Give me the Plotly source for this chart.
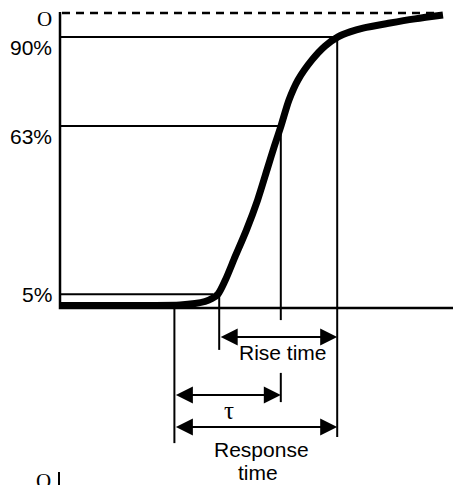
import plotly.graph_objects as go

# ---------------- data (time in arbitrary units, output level in %) ----------------
level_labels = ["O", "90%", "63%", "5%"]
level_values = [100.0, 91.9, 61.7, 4.7]          # levels as drawn in the schematic

# key instants on the time axis
t_start = 28.6    # start of response time
t_5 = 39.8        # output reaches 5 %
t_63 = 55.2       # output reaches 63 %
t_90 = 69.3       # output reaches 90 %
t_axis_end = 98.25

# step-response curve
curve_t = [0, 22.5, 30, 33.75, 36.25, 38, 39.5, 41.25, 43.75, 46.6, 49.4, 51.9,
           53.6, 55.25, 57.25, 59.5, 63, 66.25, 69.5, 72.5, 75.75, 82.5, 88.75, 95.75]
curve_level = [0.85, 0.85, 1.0, 1.5, 2.2, 3.2, 4.7, 9.2, 17.3, 26.4, 36.6, 47.5,
               54.9, 61.7, 70.5, 77.3, 84.1, 88.8, 91.9, 93.6, 94.9, 96.6, 98.0, 99.3]

dim_labels = ["Rise time", "τ", "Response", "time"]

# ---------------- figure ----------------
W, H = 469, 485
PX_PER_T = 4.0
PX_PER_PCT = 2.95
# the page body adds an 8 px offset, so the ranges are shifted to compensate
X_RANGE = [-13.0, -13.0 + W / PX_PER_T]
Y_TOP = 300.0 / PX_PER_PCT
Y_RANGE = [Y_TOP - H / PX_PER_PCT, Y_TOP]
SANS = "Liberation Sans, Arial, sans-serif"
SERIF = "Liberation Serif, Times New Roman, serif"
BLACK = "#000000"

fig = go.Figure()

def seg(xs, ys, width=2.0, dash="solid"):
    fig.add_trace(go.Scatter(x=xs, y=ys, mode="lines", hoverinfo="skip",
                             line=dict(color=BLACK, width=width, dash=dash),
                             showlegend=False))

# axes
seg([0, 0, t_axis_end], [100.3, 0, 0], width=2.5)
# final value (dashed)
seg([0.5, 94.3], [level_values[0], level_values[0]], width=2.5, dash="8px,6px")
# level lines
seg([0, t_90], [level_values[1]] * 2)
seg([0, t_63], [level_values[2]] * 2)
seg([0, 38.3], [level_values[3]] * 2)

# vertical marker lines
seg([t_start, t_start], [0, -45.8])
seg([t_5, t_5], [level_values[3], -14.2])
seg([t_63, t_63], [level_values[2], -4.1])
seg([t_63, t_63], [-22.0, -31.9])
seg([t_90, t_90], [level_values[1], -43.7])
# second chart stub at bottom
seg([-0.25, -0.25], [-55.6, -62])

# the curve
fig.add_trace(go.Scatter(x=curve_t, y=curve_level, mode="lines", hoverinfo="skip",
                         line=dict(color=BLACK, width=7, shape="spline", smoothing=0.8),
                         showlegend=False))

annotations = []

def darrow(x0, x1, y):
    annotations.append(dict(x=x1, y=y, ax=x0, ay=y, xref="x", yref="y",
                            axref="x", ayref="y", text="", showarrow=True,
                            arrowhead=2, startarrowhead=2, arrowside="end+start",
                            arrowsize=1.7, startarrowsize=1.7, arrowwidth=2,
                            arrowcolor=BLACK, standoff=0, startstandoff=0))

darrow(t_5, t_90, -9.83)
darrow(t_start, t_63, -29.5)
darrow(t_start, t_90, -40.3)

def text(x, y, s, font=SANS, size=21, xanchor="center", yanchor="middle"):
    annotations.append(dict(x=x, y=y, xref="x", yref="y", text=s, showarrow=False,
                            font=dict(family=font, size=size, color=BLACK),
                            xanchor=xanchor, yanchor=yanchor))

# level labels (offsets relative to their lines, as in the drawing)
label_shift = [-2.0, -3.7, -3.4, 0.0]
for lab, val, sh in zip(level_labels, level_values, label_shift):
    text(-1.6, val + sh, lab, font=SERIF if lab == "O" else SANS, xanchor="right")

text(101.2, -1.4, "t", xanchor="left")
text(55.75, -15.25, dim_labels[0])
text(42.2, -34.6, dim_labels[1], font=SERIF, size=25)
text(50.25, -48.1, dim_labels[2])
text(49.5, -55.6, dim_labels[3])
text(-4.25, -58.6, "O", font=SERIF)

fig.update_layout(
    width=W, height=H, autosize=False,
    margin=dict(l=0, r=0, t=0, b=0, pad=0),
    paper_bgcolor="white", plot_bgcolor="white",
    xaxis=dict(range=X_RANGE, visible=False, fixedrange=True),
    yaxis=dict(range=Y_RANGE, visible=False, fixedrange=True),
    annotations=annotations,
    showlegend=False,
)

fig.write_html("out.html")
